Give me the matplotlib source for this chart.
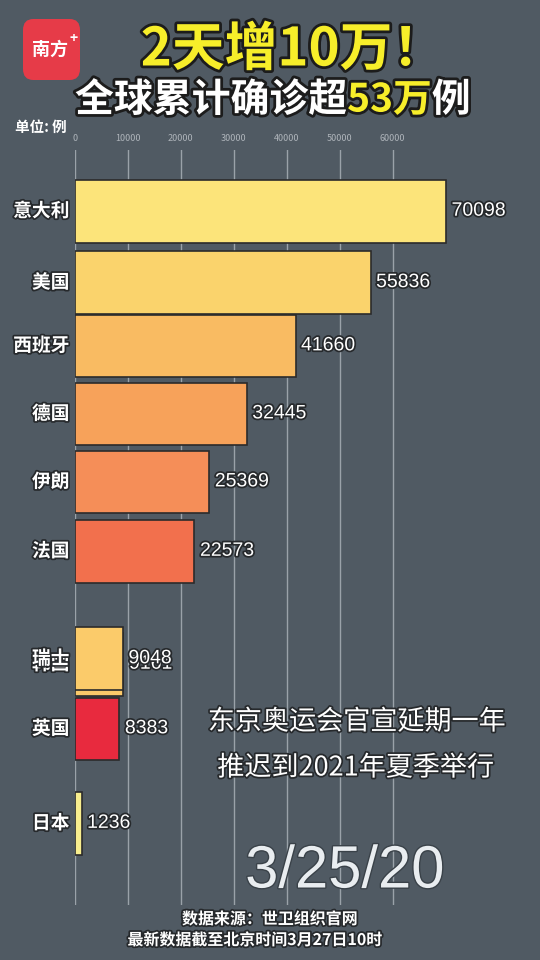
import matplotlib
matplotlib.use("Agg")
import matplotlib.pyplot as plt
import matplotlib.patheffects as pe
from matplotlib.patches import FancyBboxPatch

plt.rcParams['font.family'] = ['Noto Sans CJK SC', 'DejaVu Sans']

# data (one frame of a bar chart race, positions are the animated ranks)
countries = ['意大利', '美国', '西班牙', '德国', '伊朗', '法国', '韩国', '瑞士', '英国', '日本']
cases = [70098, 55836, 41660, 32445, 25369, 22573, 9161, 9048, 8383, 1236]
ranks = [0, 1.05, 1.98, 2.98, 3.98, 5.0, 6.66, 6.58, 7.61, 9.0]
colors = ['#fce47a', '#fad36c', '#f9bb62', '#f7a25a', '#f58e58', '#f2704d',
          '#fbc96a', '#fbcb6a', '#e82a3e', '#f8ee8e']
xticks = [0, 10000, 20000, 30000, 40000, 50000, 60000]

bg = '#505a63'
outline = [pe.withStroke(linewidth=2.5, foreground='#26292c')]

fig = plt.figure(figsize=(5.4, 9.6), dpi=100, facecolor=bg)
ax = fig.add_axes([75/540, 1-905/960, 465/540, 755/960])
ax.set_facecolor(bg)

ax.barh(ranks, cases, height=0.92, color=colors, edgecolor='#2b2b2b', linewidth=1.2, zorder=3)

for name, val, r in zip(countries, cases, ranks):
    ax.annotate(name, xy=(0, r), xytext=(-4, 0), textcoords='offset points',
                ha='right', va='center', fontsize=13.5, fontweight='bold', color='white',
                path_effects=outline, zorder=5)
    ax.annotate(str(val), xy=(val, r), xytext=(4, 0), textcoords='offset points',
                ha='left', va='center', fontsize=14, color='white',
                family=['Liberation Sans', 'DejaVu Sans'], path_effects=outline, zorder=5)

ax.set_xlim(0, 465/0.005293)
ax.set_ylim(10.2, -0.9)
ax.set_xticks(xticks)
ax.set_yticks([])
ax.xaxis.tick_top()
ax.tick_params(axis='x', length=0, pad=5, labelsize=6.5, labelcolor='#aeb4ba')
ax.grid(axis='x', color='#9aa2a9', linewidth=1, zorder=1)
for s in ax.spines.values():
    s.set_visible(False)

# logo
lax = fig.add_axes([23/540, 1-80/960, 57/540, 61/960])
lax.axis('off')
lax.set_xlim(0, 1)
lax.set_ylim(0, 1)
lax.add_patch(FancyBboxPatch((0, 0), 1, 1, boxstyle='round,pad=0,rounding_size=0.18',
                             facecolor='#e63b48', edgecolor='none'))
lax.text(0.47, 0.5, '南方', ha='center', va='center', fontsize=13, fontweight='bold',
         color='white', style='italic')
lax.text(0.88, 0.68, '+', ha='center', va='center', fontsize=10, fontweight='bold', color='white')

# titles
title_fx = [pe.withStroke(linewidth=4, foreground='#1c1c1c')]
fig.text(293/540, 1-50/960, '2天增10万！', ha='center', va='center', fontsize=38,
         fontweight='heavy', color='#f7ee2a', path_effects=title_fx)
y2 = 1-100/960
t1 = fig.text(75/540, y2, '全球累计确诊超', ha='left', va='center', fontsize=28,
              fontweight='heavy', color='white', path_effects=title_fx)
t2 = fig.text(0, 0, '53万', fontsize=28, fontweight='heavy', color='#f7ee2a',
              path_effects=title_fx, va='center')
t3 = fig.text(0, 0, '例', fontsize=28, fontweight='heavy', color='white',
              path_effects=title_fx, va='center')
fig.canvas.draw()
r = fig.canvas.get_renderer()
bb1 = t1.get_window_extent(r)
t2.set_position((bb1.x1/540, y2))
bb2 = t2.get_window_extent(r)
t3.set_position((bb2.x1/540, y2))

fig.text(15/540, 1-127/960, '单位: 例', ha='left', va='center', fontsize=10.5,
         color='white', fontweight='bold')

# notes
fig.text(357/540, 1-722/960, '东京奥运会官宣延期一年', ha='center', va='center',
         fontsize=19.5, color='white', fontweight='medium', path_effects=outline)
fig.text(356/540, 1-768/960, '推迟到2021年夏季举行', ha='center', va='center',
         fontsize=19.5, color='white', fontweight='medium', path_effects=outline)

fig.text(345/540, 1-872/960, '3/25/20', ha='center', va='center', fontsize=43,
         color='#e9edf0', family=['Liberation Sans', 'DejaVu Sans'],
         path_effects=[pe.withStroke(linewidth=2, foreground='#3a4249')])

fig.text(270/540, 1-919/960, '数据来源：世卫组织官网', ha='center', va='center',
         fontsize=11.5, fontweight='bold', color='white', path_effects=outline)
fig.text(255/540, 1-940/960, '最新数据截至北京时间3月27日10时', ha='center', va='center',
         fontsize=11.5, fontweight='bold', color='white', path_effects=outline)

fig.savefig('out.png', dpi=100, facecolor=bg)
